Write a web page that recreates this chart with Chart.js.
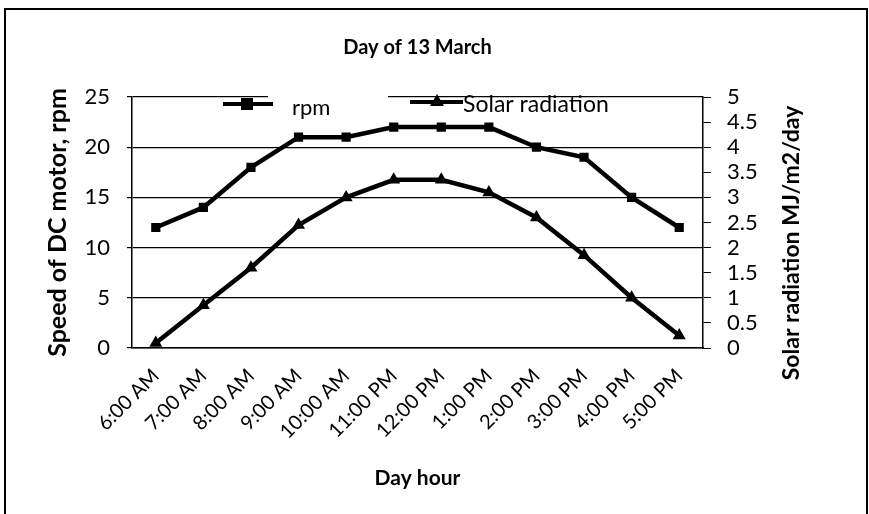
<!DOCTYPE html>
<html>
<head>
<meta charset="utf-8">
<script src="https://cdn.jsdelivr.net/npm/chart.js@4/dist/chart.umd.min.js"></script>
<style>
  html, body { margin: 0; padding: 0; background: #fff; }
</style>
</head>
<body>
<canvas id="lineChart" width="869" height="514"></canvas>
<script>
const hours = ["6:00 AM", "7:00 AM", "8:00 AM", "9:00 AM", "10:00 AM", "11:00 PM",
  "12:00 PM", "1:00 PM", "2:00 PM", "3:00 PM", "4:00 PM", "5:00 PM"];
const rpm = [12, 14, 18, 21, 21, 22, 22, 22, 20, 19, 15, 12];
const solarRadiation = [0.1, 0.85, 1.6, 2.45, 3.0, 3.35, 3.35, 3.1, 2.6, 1.85, 1.0, 0.25];
const rpmTicks = [0, 5, 10, 15, 20, 25];
const solarTicks = [0, 0.5, 1, 1.5, 2, 2.5, 3, 3.5, 4, 4.5, 5];

const FONT = "Lato, 'Open Sans', sans-serif";
Chart.defaults.font.family = FONT;
Chart.defaults.color = "#000";

// frame, right axis title (reads bottom to top) and the legend drawn inside the plot
const extras = {
  id: "extras",
  beforeDraw(chart) {
    const ctx = chart.ctx;
    ctx.save();
    ctx.fillStyle = "#fff";
    ctx.fillRect(0, 0, chart.width, chart.height);
    ctx.strokeStyle = "#000";
    ctx.lineWidth = 2;
    ctx.strokeRect(5, 9, 862, 515);
    ctx.restore();
  },
  afterDraw(chart) {
    const ctx = chart.ctx;
    const area = chart.chartArea;
    ctx.save();
    ctx.font = "bold 23px " + FONT;
    ctx.fillStyle = "#000";
    ctx.textAlign = "center";
    ctx.textBaseline = "middle";
    ctx.translate(792, 243);
    ctx.rotate(-Math.PI / 2);
    ctx.fillText("Solar radiation MJ/m2/day", 0, 0);
    ctx.restore();

    ctx.save();
    ctx.fillStyle = "#fff";
    ctx.fillRect(268, area.top - 3, 120, 6);
    ctx.strokeStyle = "#000";
    ctx.fillStyle = "#000";
    ctx.lineWidth = 4;
    ctx.beginPath();
    ctx.moveTo(223, 104);
    ctx.lineTo(273, 104);
    ctx.stroke();
    ctx.fillRect(241, 98, 12, 12);
    ctx.beginPath();
    ctx.moveTo(410, 102);
    ctx.lineTo(463, 102);
    ctx.stroke();
    ctx.beginPath();
    ctx.moveTo(437, 94);
    ctx.lineTo(444, 106);
    ctx.lineTo(430, 106);
    ctx.closePath();
    ctx.fill();
    ctx.textBaseline = "middle";
    ctx.textAlign = "left";
    ctx.font = "22px " + FONT;
    ctx.fillText("rpm", 292, 108);
    ctx.font = "23px " + FONT;
    ctx.fillText("Solar radiation", 463, 105);
    ctx.restore();
  },
};

new Chart(document.getElementById("lineChart"), {
  type: "line",
  data: {
    labels: hours,
    datasets: [
      {
        label: "rpm",
        data: rpm,
        yAxisID: "y",
        borderColor: "#000",
        backgroundColor: "#000",
        borderWidth: 4.5,
        pointStyle: "rect",
        pointRadius: 6.5,
        pointBorderWidth: 0,
      },
      {
        label: "Solar radiation",
        data: solarRadiation,
        yAxisID: "y1",
        borderColor: "#000",
        backgroundColor: "#000",
        borderWidth: 4.5,
        pointStyle: "triangle",
        pointRadius: 7.5,
        pointBorderWidth: 0,
      },
    ],
  },
  options: {
    responsive: false,
    animation: false,
    layout: { padding: 0 },
    plugins: {
      legend: { display: false },
      tooltip: { enabled: false },
      title: {
        display: true,
        text: "Day of 13 March",
        fullSize: false,
        color: "#000",
        font: { size: 20, weight: "bold" },
        padding: { top: 36, bottom: 37 },
      },
    },
    scales: {
      x: {
        offset: true,
        grid: { display: false },
        border: { display: true, color: "#000", width: 1.5 },
        ticks: {
          autoSkip: false,
          minRotation: 45,
          maxRotation: 45,
          padding: 8,
          font: { size: 20 },
          color: "#000",
        },
        title: {
          display: true,
          text: "Day hour",
          font: { size: 21, weight: "bold" },
          padding: { bottom: 23 },
        },
        afterFit(scale) {
          scale.height = 166;
        },
      },
      y: {
        position: "left",
        min: 0,
        max: 25,
        afterBuildTicks(scale) {
          scale.ticks = rpmTicks.map((v) => ({ value: v }));
        },
        grid: { color: "#000", lineWidth: 1.2, tickLength: 5 },
        border: { display: true, color: "#000", width: 1.5 },
        ticks: { autoSkip: false, padding: 17, font: { size: 22 }, color: "#000" },
        title: {
          display: true,
          text: "Speed of DC motor, rpm",
          font: { size: 25, weight: "bold" },
          padding: { top: 43 },
        },
        afterFit(scale) {
          scale.width = 132;
        },
      },
      y1: {
        position: "right",
        min: 0,
        max: 5,
        afterBuildTicks(scale) {
          scale.ticks = solarTicks.map((v) => ({ value: v }));
        },
        grid: { drawOnChartArea: false, color: "#000", tickLength: 8 },
        border: { display: true, color: "#000", width: 1.5 },
        ticks: {
          autoSkip: false,
          padding: 16,
          font: { size: 22 },
          color: "#000",
          callback: (value) => String(value),
        },
        afterFit(scale) {
          scale.width = 166;
        },
      },
    },
  },
  plugins: [extras],
});
</script>
</body>
</html>
